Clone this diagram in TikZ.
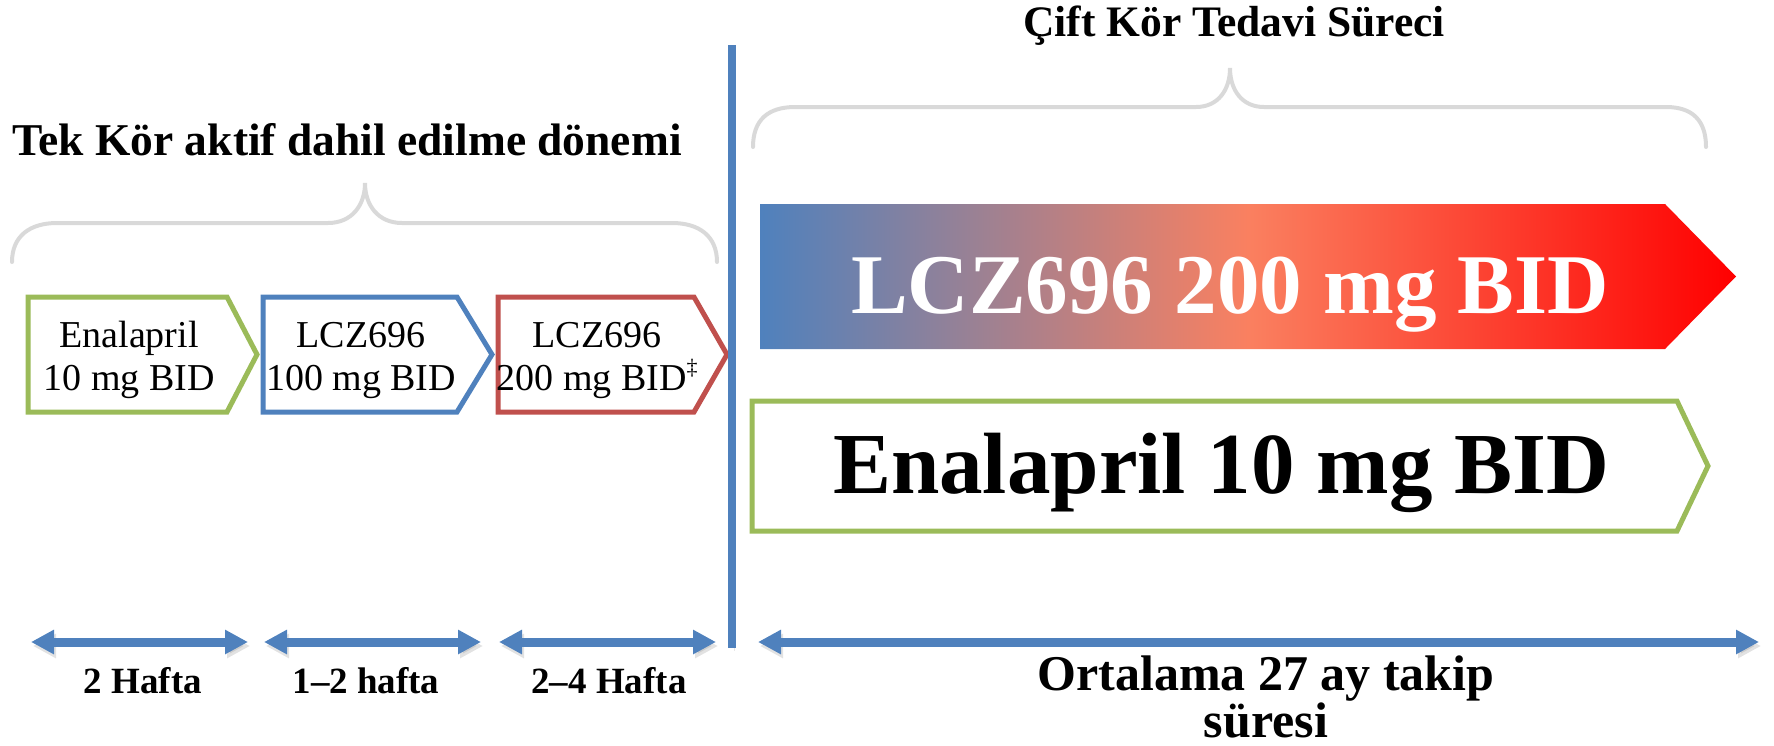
\documentclass[tikz,border=0pt]{standalone}
\usepackage{fontspec}
\setmainfont{Liberation Serif}
\usetikzlibrary{arrows.meta}

\definecolor{accgreen}{RGB}{155,187,89}
\definecolor{accblue}{RGB}{79,129,189}
\definecolor{accred}{RGB}{192,80,77}
\definecolor{bracegray}{RGB}{217,217,217}
\definecolor{coral}{RGB}{250,128,96}
\definecolor{hotred}{RGB}{255,0,0}

\tikzset{
  brace/.style={draw=bracegray, line width=4pt, line cap=round},
  stagebox/.style={line width=5pt, fill=white},
  stagetext/.style={anchor=base, inner sep=0pt, align=center,
    font=\fontsize{38}{43}\selectfont},
  heading/.style={anchor=base, inner sep=0pt, font=\bfseries\fontsize{43}{46}\selectfont},
  durlabel/.style={anchor=base, inner sep=0pt, font=\bfseries\fontsize{37}{40}\selectfont},
  span/.style={draw=accblue, line width=9pt,
    {Triangle[length=23pt,width=23pt]}-{Triangle[length=23pt,width=23pt]},
    preaction={draw=black!45, opacity=.25,
      transform canvas={shift={(2pt,-4pt)}}}},
}

\begin{document}
\begin{tikzpicture}[x=1pt, y=-1pt]
\useasboundingbox (0,0) rectangle (1774,745);

% ---- single-blind run-in period -------------------------------------
\node[heading, anchor=base west, font=\bfseries\fontsize{45.5}{48}\selectfont]
  (runin) at (12,155) {Tek Kör aktif dahil edilme dönemi};

\draw[brace] (12,262) .. controls (12,236) and (30,223) .. (57,223)
  -- (328,223) .. controls (352,223) and (365,205) .. (365,183)
  .. controls (365,205) and (378,223) .. (402,223)
  -- (672,223) .. controls (699,223) and (717,236) .. (717,262);

% stage boxes
\draw[stagebox, draw=accgreen] (28,297) -- (227,297) -- (257,354.5)
  -- (227,412) -- (28,412) -- cycle;
\draw[stagebox, draw=accblue] (263,297) -- (457,297) -- (492,354.5)
  -- (457,412) -- (263,412) -- cycle;
\draw[stagebox, draw=accred] (498,297) -- (694,297) -- (727,354.5)
  -- (694,412) -- (498,412) -- cycle;

\node[stagetext] (s1) at (129,390) {Enalapril\\10 mg BID};
\node[stagetext] (s2) at (361,390) {LCZ696\\100 mg BID};
\node[stagetext] (s3) at (597,390)
  {LCZ696\\200 mg BID\raisebox{0.42em}{\fontsize{22}{22}\selectfont ‡}};

% durations
\coordinate (d1a) at (31,642);  \coordinate (d1b) at (248,642);
\coordinate (d2a) at (264,642); \coordinate (d2b) at (481,642);
\coordinate (d3a) at (499,642); \coordinate (d3b) at (716,642);
\draw[span] (d1a) -- (d1b);
\draw[span] (d2a) -- (d2b);
\draw[span] (d3a) -- (d3b);

\node[durlabel] (w1) at (143,693) {2 Hafta};
\node[durlabel] (w2) at (366,693) {1–2 hafta};
\node[durlabel] (w3) at (609,693) {2–4 Hafta};

% ---- randomisation divider ------------------------------------------
\coordinate (divtop) at (732,45);
\coordinate (divbot) at (732,648);
\draw[accblue, line width=8pt,
  preaction={draw=black!45, opacity=.2, transform canvas={shift={(2pt,-3pt)}}}]
  (divtop) -- (divbot);

% ---- double-blind treatment period ----------------------------------
\node[heading, font=\bfseries\fontsize{43.5}{46}\selectfont]
  (dbl) at (1234,36) {Çift Kör Tedavi Süreci};

\draw[brace] (753,147) .. controls (753,120) and (768,107) .. (795,107)
  -- (1196,107) .. controls (1218,107) and (1230,90) .. (1230,68)
  .. controls (1230,90) and (1242,107) .. (1264,107)
  -- (1666,107) .. controls (1692,107) and (1706,120) .. (1706,147);

% colour ramp: blue -> coral -> red (middle colour set last)
\shade[left color=accblue, right color=hotred, middle color=coral]
  (760,204) -- (1665,204) -- (1736,276.5) -- (1665,349) -- (760,349) -- cycle;
\node[anchor=base, inner sep=0pt, text=white,
  font=\bfseries\fontsize{85}{90}\selectfont]
  (lcz) at (1230,313) {LCZ696 200 mg BID};

\draw[stagebox, draw=accgreen] (752,401) -- (1677,401) -- (1708,466)
  -- (1677,531) -- (752,531) -- cycle;
\node[anchor=base, inner sep=0pt,
  font=\bfseries\fontsize{87}{90}\selectfont]
  (ena) at (1221,493) {Enalapril 10 mg BID};

\coordinate (fa) at (758,642); \coordinate (fb) at (1759,642);
\draw[span] (fa) -- (fb);

\node[anchor=base, inner sep=0pt, align=center,
  font=\bfseries\fontsize{50}{29}\selectfont]
  (fu) at (1266,737) {Ortalama 27 ay takip\\süresi};
\end{tikzpicture}
\end{document}
